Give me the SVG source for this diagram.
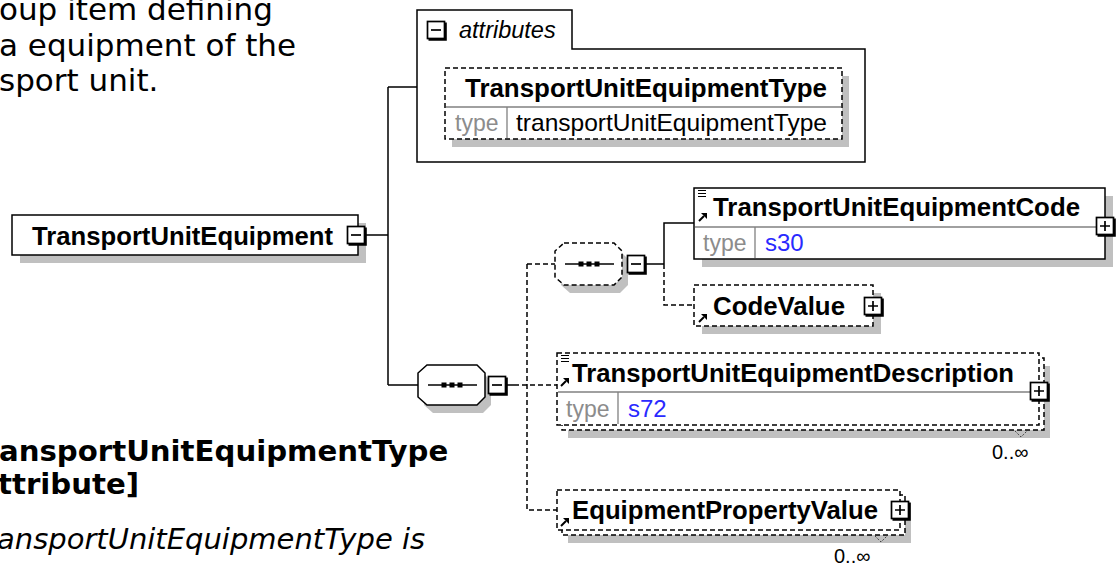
<svg xmlns="http://www.w3.org/2000/svg" width="1117" height="566" viewBox="0 0 1117 566">
<style>
.para{font-family:"DejaVu Sans",Verdana,sans-serif;fill:#000}
.lbl{font-family:"Liberation Sans",Arial,sans-serif;font-weight:bold;font-size:26px;fill:#000}
.att{font-family:"Liberation Sans",Arial,sans-serif;font-style:italic;font-size:23.5px;fill:#000}
.typ{font-family:"Liberation Sans",Arial,sans-serif;font-size:23px;fill:#8c8c8c}
.val{font-family:"Liberation Sans",Arial,sans-serif;font-size:24px;fill:#000}
.blue{fill:#2a2aff}
.card{font-family:"Liberation Sans",Arial,sans-serif;font-size:20px;fill:#000}
.box{fill:#fff;stroke:#000;stroke-width:1.5}
.dbox{fill:#fff;stroke:#000;stroke-width:1.5;stroke-dasharray:5 3}
.sh{fill:#c0c0c0}
.ln{fill:none;stroke:#000;stroke-width:1.5}
.dl{fill:none;stroke:#000;stroke-width:1.5;stroke-dasharray:5 3}
.sep{stroke:#808080;stroke-width:1.3}
</style>
<defs>
<g id="minus"><rect x="-8.5" y="-8.5" width="17" height="17" fill="#fff" stroke="#000" stroke-width="1.7"/><path d="M9.7,-7.5 V9.7 H-7.5" fill="none" stroke="#000" stroke-width="2.2"/><path d="M-5,0 H5" stroke="#000" stroke-width="1.7"/></g>
<g id="plus"><rect x="-8.5" y="-8.5" width="17" height="17" fill="#fff" stroke="#000" stroke-width="1.7"/><path d="M9.7,-7.5 V9.7 H-7.5" fill="none" stroke="#000" stroke-width="2.2"/><path d="M-5,0 H5 M0,-5 V5" stroke="#000" stroke-width="1.7"/></g>
<g id="ref"><path d="M1,9 L6,4" stroke="#000" stroke-width="2"/><polygon points="3,1 9,1 9,7" fill="#000"/></g>
<g id="doc"><path d="M0,0.5 H8 M0,3.5 H8 M0,6.5 H8" stroke="#000" stroke-width="1.1"/></g>
<path id="vmark" d="M-7,0 L-1,6 L5,0" fill="none" stroke="#444" stroke-width="1" stroke-dasharray="2 1.5"/>
</defs>

<g id="description-text">
<text class="para" x="-1" y="20" font-size="31">oup item defining</text>
<text class="para" x="-1" y="56" font-size="31">a equipment of the</text>
<text class="para" x="-1" y="91" font-size="31">sport unit.</text>
<text class="para" x="-1" y="461" font-size="29.2" font-weight="bold">ansportUnitEquipmentType</text>
<text class="para" x="-2" y="494" font-size="29.2" font-weight="bold">ttribute]</text>
<text class="para" x="-3" y="549" font-size="29" font-style="italic">ansportUnitEquipmentType is</text>
</g>

<g id="connectors">
<path class="ln" d="M366,235 H388 M388,87 V385 M388,87 H417 M388,385 H418 M506,385 H514 M645,264 H664 M664,264 V223 H694"/>
<path class="dl" d="M514,385 H557 M527,264 V510 H557 M527,264 H555 M664,264 V305 H694"/>
</g>

<g id="node-TransportUnitEquipment">
<rect class="sh" x="20" y="223" width="346" height="40"/>
<rect class="box" x="12" y="215" width="346" height="40"/>
<text class="lbl" x="32" y="245" textLength="301" lengthAdjust="spacingAndGlyphs">TransportUnitEquipment</text>
<use href="#minus" x="356" y="235"/>
</g>

<g id="attributes">
<path class="box" d="M417,10 H572 V49 H865 V162 H417 Z"/>
<use href="#minus" x="436" y="30"/>
<text class="att" x="459" y="38">attributes</text>
</g>

<g id="node-TransportUnitEquipmentType">
<rect class="sh" x="452" y="76" width="397" height="71"/>
<rect class="dbox" x="445" y="68" width="397" height="71"/>
<line class="sep" x1="446" y1="107" x2="841" y2="107"/>
<line class="sep" x1="507" y1="107" x2="507" y2="138"/>
<text class="lbl" x="465" y="97" textLength="362" lengthAdjust="spacingAndGlyphs">TransportUnitEquipmentType</text>
<text class="typ" x="455" y="131">type</text>
<text class="val" x="516" y="131" textLength="311" lengthAdjust="spacingAndGlyphs">transportUnitEquipmentType</text>
</g>

<g id="sequence-main">
<polygon class="sh" points="433,373 483,373 491,381 491,405 483,413 433,413 424,405 424,381"/>
<polygon class="box" points="427,365 477,365 485,373 485,397 477,405 427,405 418,397 418,373"/>
<line class="ln" x1="428" y1="385" x2="477" y2="385"/>
<rect x="441.5" y="382.5" width="5" height="5"/>
<rect x="449.5" y="382.5" width="5" height="5"/>
<rect x="457.5" y="382.5" width="5" height="5"/>
<use href="#minus" x="497" y="385"/>
</g>

<g id="sequence-code">
<polygon class="sh" points="570,251 620,251 628,259 628,285 620,293 570,293 561,285 561,259"/>
<polygon class="dbox" points="564,243 614,243 622,251 622,277 614,285 564,285 555,277 555,251"/>
<line class="ln" x1="565" y1="264" x2="614" y2="264"/>
<rect x="578.5" y="261.5" width="5" height="5"/>
<rect x="586.5" y="261.5" width="5" height="5"/>
<rect x="594.5" y="261.5" width="5" height="5"/>
<use href="#minus" x="636" y="264"/>
</g>

<g id="node-TransportUnitEquipmentCode">
<rect class="sh" x="702" y="196" width="411" height="71"/>
<rect class="box" x="694" y="188" width="411" height="71"/>
<line class="sep" x1="695" y1="227" x2="1104" y2="227"/>
<line class="sep" x1="755" y1="227" x2="755" y2="258"/>
<use href="#doc" x="698" y="190"/>
<use href="#ref" x="698" y="212"/>
<text class="lbl" x="713" y="216" textLength="367" lengthAdjust="spacingAndGlyphs">TransportUnitEquipmentCode</text>
<text class="typ" x="703" y="251">type</text>
<text class="val blue" x="765" y="251">s30</text>
<use href="#plus" x="1105" y="226"/>
</g>

<g id="node-CodeValue">
<rect class="sh" x="702" y="293" width="179" height="41"/>
<rect class="dbox" x="694" y="285" width="179" height="41"/>
<use href="#ref" x="698" y="313"/>
<text class="lbl" x="713" y="315" textLength="132" lengthAdjust="spacingAndGlyphs">CodeValue</text>
<use href="#plus" x="873" y="306"/>
</g>

<g id="node-TransportUnitEquipmentDescription">
<rect class="sh" x="568" y="366" width="482" height="72"/>
<rect class="dbox" x="562" y="358" width="482" height="72"/>
<rect class="dbox" x="557" y="353" width="482" height="72"/>
<line class="sep" x1="558" y1="392" x2="1038" y2="392"/>
<line class="sep" x1="618" y1="392" x2="618" y2="424"/>
<use href="#doc" x="561" y="355"/>
<use href="#ref" x="560" y="377"/>
<text class="lbl" x="572" y="382" textLength="442" lengthAdjust="spacingAndGlyphs">TransportUnitEquipmentDescription</text>
<text class="typ" x="566" y="417">type</text>
<text class="val blue" x="628" y="417">s72</text>
<use href="#plus" x="1039" y="391"/>
<use href="#vmark" x="1022" y="431"/>
<text class="card" x="992" y="459">0..∞</text>
</g>

<g id="node-EquipmentPropertyValue">
<rect class="sh" x="568" y="503" width="343" height="40"/>
<rect class="dbox" x="562" y="495" width="343" height="40"/>
<rect class="dbox" x="557" y="490" width="343" height="40"/>
<use href="#ref" x="560" y="517"/>
<text class="lbl" x="572" y="519" textLength="306" lengthAdjust="spacingAndGlyphs">EquipmentPropertyValue</text>
<use href="#plus" x="900" y="510"/>
<use href="#vmark" x="882" y="536"/>
<text class="card" x="834" y="563">0..∞</text>
</g>
</svg>
